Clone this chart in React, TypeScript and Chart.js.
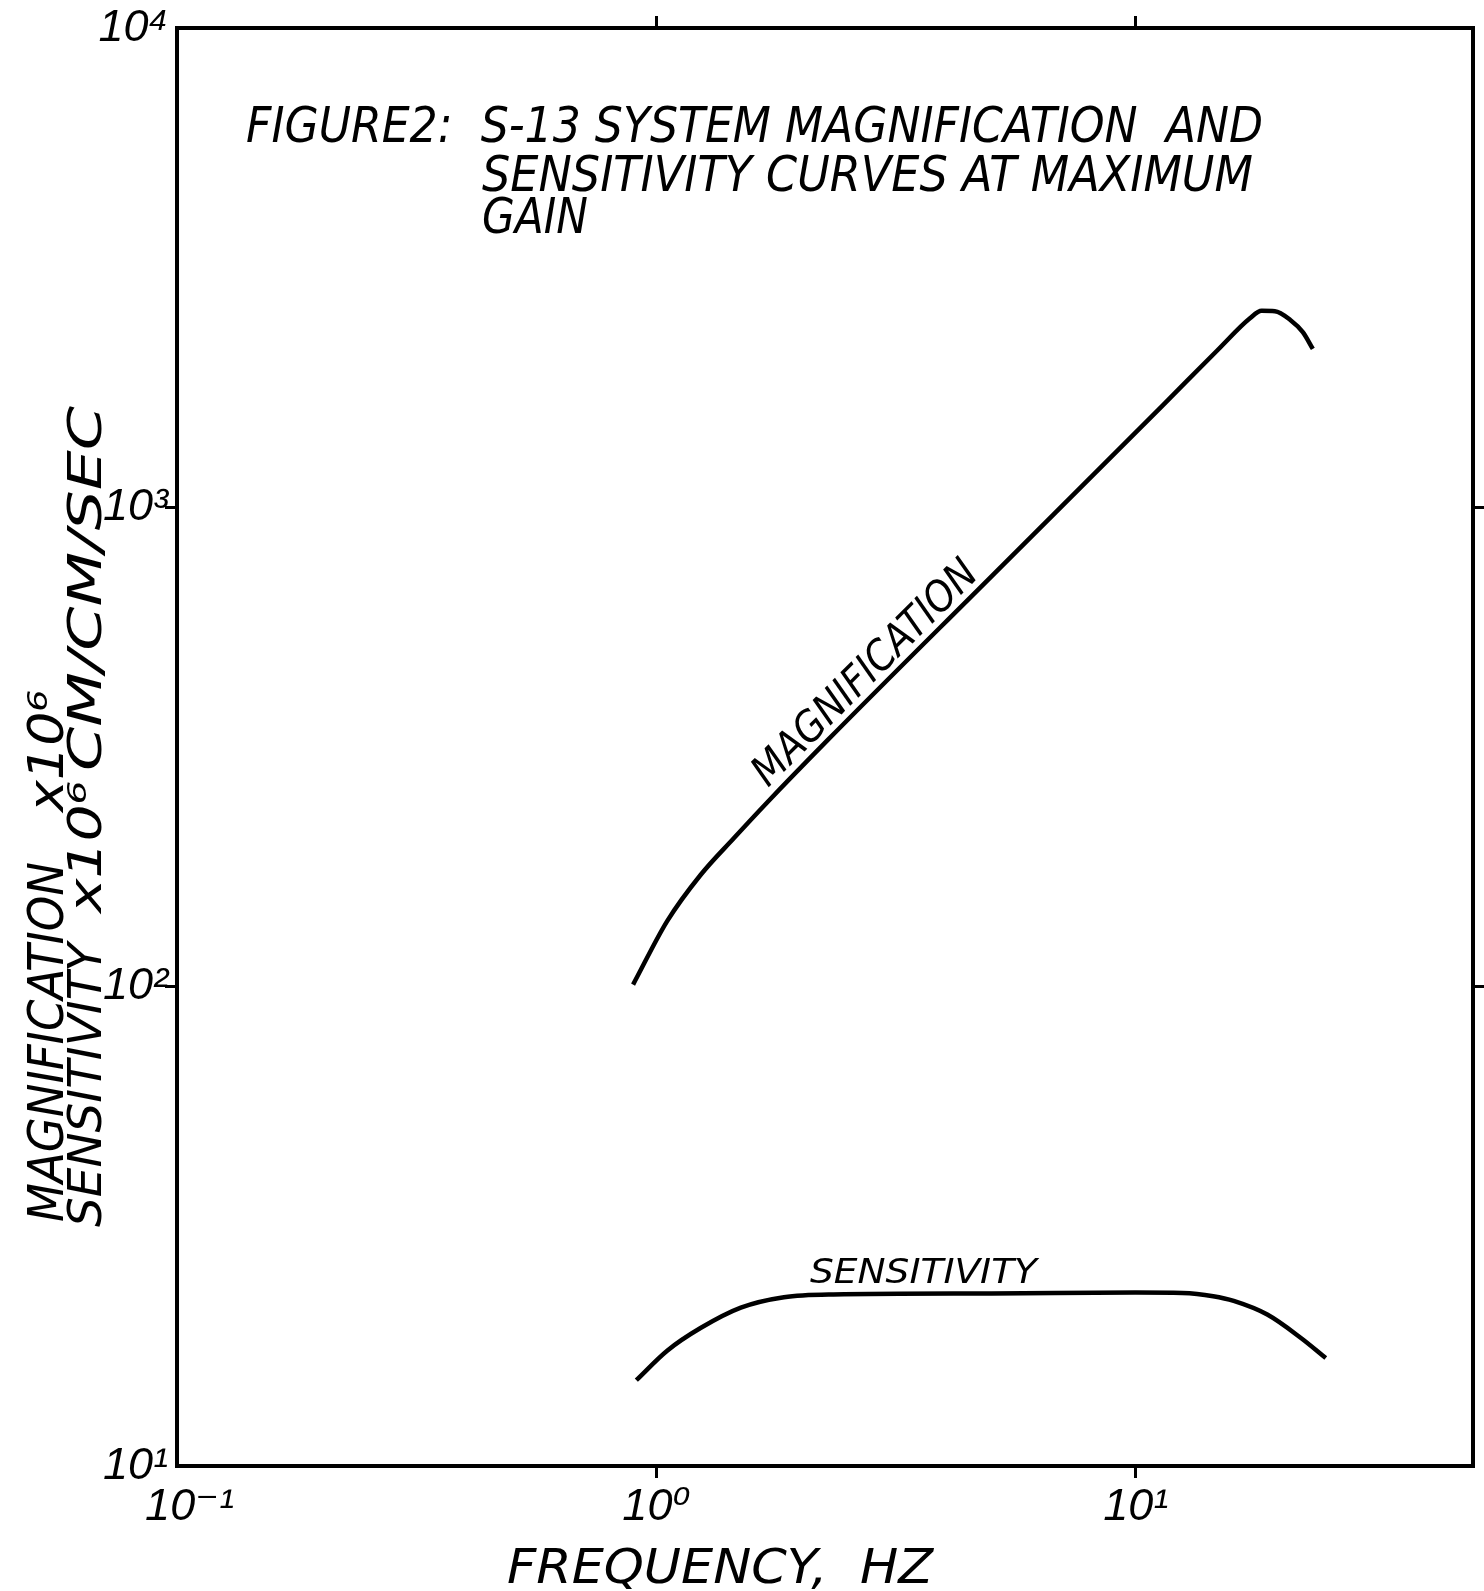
import React, { useEffect, useRef } from 'react';
import { Chart, registerables } from 'chart.js';

Chart.register(...registerables);

// ---- data ----
const magnificationFreq = [0.894, 1.053, 1.236, 1.45, 1.7, 2.27, 5.0, 11.3, 14.8, 17.3, 18.3, 19.5, 21.0, 22.3, 23.4];
const magnificationValue = [101, 137, 171, 204, 242, 326, 718, 1620, 2127, 2480, 2570, 2565, 2460, 2320, 2140];

const sensitivityFreq = [0.908, 1.053, 1.236, 1.5, 1.845, 2.34, 5.0, 10.0, 12.5, 14.5, 16.0, 18.8, 22.1, 24.9];
const sensitivityValue = [15.1, 17.4, 19.4, 21.4, 22.5, 22.8, 22.9, 23.0, 22.95, 22.6, 22.1, 20.7, 18.5, 16.8];

const xTickValues = [0.1, 1, 10];
const xTickLabels = ['  10\u207B\u00B9', '10\u2070', '10\u00B9'];
const yTickValues = [10, 100, 1000, 10000];
const yTickLabels = ['10\u00B9', '10\u00B2', '10\u00B3', '10\u2074'];

const xRange = [0.1, 50.5];
const yRange = [10, 10000];

const captionLines = [
  'FIGURE2:  S-13 SYSTEM MAGNIFICATION  AND',
  'SENSITIVITY CURVES AT MAXIMUM',
  'GAIN',
];
const yTitleParts = ['MAGNIFICATION', 'x10\u2076', 'SENSITIVITY', 'x10\u2076', 'CM/CM/SEC'];
const xTitle = 'FREQUENCY,  HZ';
const curveLabels = ['MAGNIFICATION', 'SENSITIVITY'];

// ---- layout ----
const W = 1484;
const H = 1591;
const TICK_FONT = "'Liberation Sans', 'DejaVu Sans', sans-serif";
const TEXT_FONT = "'DejaVu Sans', sans-serif";

type TextItem = { text: string; x: number; y: number; w: number; size: number; angle: number };

const textLayout: TextItem[] = [
  { text: captionLines[0], x: 246, y: 142, w: 1017, size: 50, angle: 0 },
  { text: captionLines[1], x: 482, y: 191, w: 771, size: 50, angle: 0 },
  { text: captionLines[2], x: 482, y: 233, w: 106, size: 50, angle: 0 },
  { text: yTitleParts[0], x: 63, y: 1222, w: 360, size: 49, angle: -Math.PI / 2 },
  { text: yTitleParts[1], x: 63, y: 812, w: 122, size: 49, angle: -Math.PI / 2 },
  { text: yTitleParts[2], x: 101, y: 1227, w: 284, size: 47, angle: -Math.PI / 2 },
  { text: yTitleParts[3], x: 101, y: 913, w: 132, size: 47, angle: -Math.PI / 2 },
  { text: yTitleParts[4], x: 101, y: 771, w: 365, size: 47, angle: -Math.PI / 2 },
  { text: xTitle, x: 507, y: 1583, w: 426, size: 48, angle: 0 },
  { text: curveLabels[0], x: 768, y: 788, w: 300, size: 42, angle: -Math.PI / 4 },
  { text: curveLabels[1], x: 810, y: 1283, w: 227, size: 34, angle: 0 },
];

function drawFitted(ctx: CanvasRenderingContext2D, t: TextItem) {
  ctx.save();
  ctx.font = `italic ${t.size}px ${TEXT_FONT}`;
  ctx.fillStyle = '#000';
  ctx.textAlign = 'left';
  ctx.textBaseline = 'alphabetic';
  const m = ctx.measureText(t.text).width || 1;
  ctx.translate(t.x, t.y);
  ctx.rotate(t.angle);
  ctx.scale(t.w / m, 1);
  ctx.fillText(t.text, 0, 0);
  ctx.restore();
}

const textPlugin = {
  id: 'handLettering',
  beforeDraw(chart: any) {
    const ctx = chart.ctx;
    ctx.save();
    ctx.fillStyle = '#fff';
    ctx.fillRect(0, 0, chart.width, chart.height);
    ctx.restore();
  },
  afterDraw(chart: any) {
    textLayout.forEach((t) => drawFitted(chart.ctx, t));
  },
};

const edgeTransparent = (vals: number[], lo: number, hi: number) => (c: any) => {
  const v = c.tick ? c.tick.value : vals[c.index];
  return v === lo || v === hi ? 'rgba(0,0,0,0)' : '#000';
};

export default function App() {
  const ref = useRef<HTMLCanvasElement | null>(null);

  useEffect(() => {
    if (!ref.current) return;
    const tickFont = { family: TICK_FONT, size: 45, style: 'italic' as const };
    const gridCommon = { drawOnChartArea: false, drawTicks: true, tickLength: 12, lineWidth: 3 };
    const borderCommon = { display: true, color: '#000', width: 4 };

    const chart = new Chart(ref.current, {
      type: 'line',
      data: {
        datasets: [
          {
            label: 'Magnification',
            data: magnificationFreq.map((f, i) => ({ x: f, y: magnificationValue[i] })),
            borderColor: '#000',
            borderWidth: 4.5,
            pointRadius: 0,
            fill: false,
            cubicInterpolationMode: 'monotone',
          },
          {
            label: 'Sensitivity',
            data: sensitivityFreq.map((f, i) => ({ x: f, y: sensitivityValue[i] })),
            borderColor: '#000',
            borderWidth: 4.5,
            pointRadius: 0,
            fill: false,
            cubicInterpolationMode: 'monotone',
          },
        ],
      },
      options: {
        responsive: false,
        animation: false,
        layout: { padding: 0 },
        plugins: { legend: { display: false }, tooltip: { enabled: false }, title: { display: false } },
        scales: {
          x: {
            type: 'logarithmic',
            position: 'bottom',
            min: xRange[0],
            max: xRange[1],
            afterBuildTicks: (s: any) => {
              s.ticks = xTickValues.map((v) => ({ value: v }));
            },
            afterFit: (s: any) => {
              s.height = 125;
            },
            ticks: {
              autoSkip: false,
              maxRotation: 0,
              minRotation: 0,
              padding: 2,
              color: '#000',
              font: tickFont,
              callback: (_v: any, i: number) => xTickLabels[i],
            },
            grid: { ...gridCommon, color: edgeTransparent(xTickValues, xRange[0], xRange[1]) },
            border: borderCommon,
          },
          xTop: {
            type: 'logarithmic',
            position: 'top',
            min: xRange[0],
            max: xRange[1],
            afterBuildTicks: (s: any) => {
              s.ticks = xTickValues.map((v) => ({ value: v }));
            },
            afterFit: (s: any) => {
              s.height = 28;
            },
            ticks: { display: false },
            grid: { ...gridCommon, color: edgeTransparent(xTickValues, xRange[0], xRange[1]) },
            border: borderCommon,
          },
          y: {
            type: 'logarithmic',
            position: 'left',
            min: yRange[0],
            max: yRange[1],
            afterBuildTicks: (s: any) => {
              s.ticks = yTickValues.map((v) => ({ value: v }));
            },
            afterFit: (s: any) => {
              s.width = 177;
            },
            ticks: {
              autoSkip: false,
              padding: -3,
              color: '#000',
              font: tickFont,
              callback: (_v: any, i: number) => yTickLabels[i],
            },
            grid: { ...gridCommon, color: edgeTransparent(yTickValues, yRange[0], yRange[1]) },
            border: borderCommon,
          },
          yRight: {
            type: 'logarithmic',
            position: 'right',
            min: yRange[0],
            max: yRange[1],
            afterBuildTicks: (s: any) => {
              s.ticks = yTickValues.map((v) => ({ value: v }));
            },
            afterFit: (s: any) => {
              s.width = 11;
            },
            ticks: { display: false },
            grid: { ...gridCommon, color: edgeTransparent(yTickValues, yRange[0], yRange[1]) },
            border: borderCommon,
          },
        },
      } as any,
      plugins: [textPlugin],
    });
    return () => chart.destroy();
  }, []);

  return (
    <div style={{ position: 'absolute', left: 0, top: 0, width: W, height: H, background: '#fff' }}>
      <canvas ref={ref} width={W} height={H} style={{ display: 'block', width: W, height: H }} />
    </div>
  );
}
